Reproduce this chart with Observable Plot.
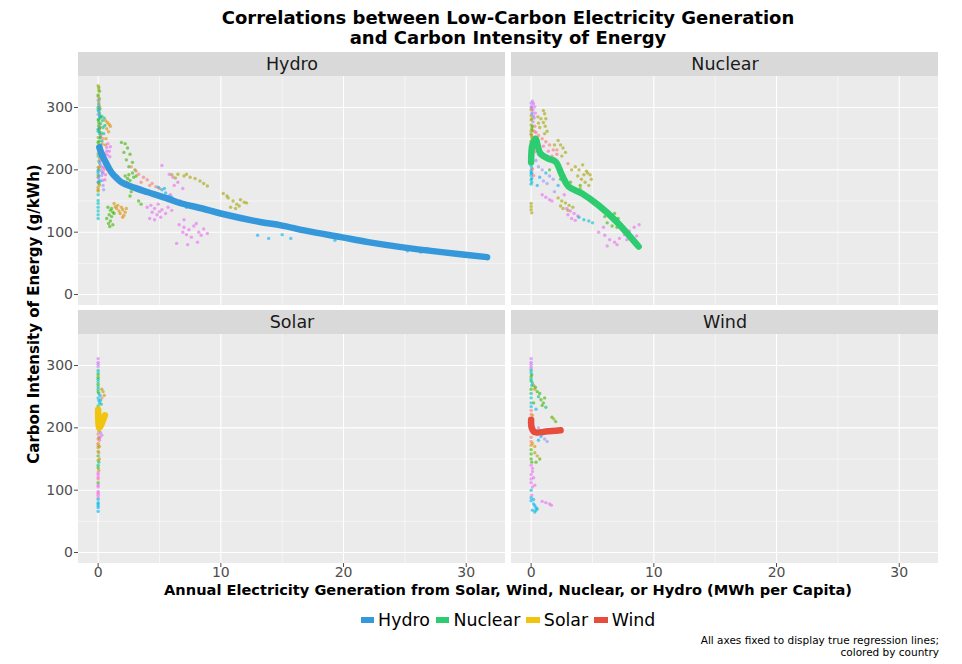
<!DOCTYPE html>
<html><head><meta charset="utf-8">
<script src="https://cdn.jsdelivr.net/npm/d3@7"></script>
<script src="https://cdn.jsdelivr.net/npm/@observablehq/plot@0.6"></script>
<style>
body{margin:0;background:#fff;font-family:"DejaVu Sans",sans-serif;}
#wrap{width:962px;}
#title{box-sizing:border-box;height:52px;padding:8px 23px 0 77px;text-align:center;font-weight:bold;font-size:18px;line-height:20px;color:#000;}
#chart svg{display:block;}
#legend{box-sizing:border-box;display:flex;justify-content:center;align-items:center;padding:0 23px 0 77px;height:20px;margin-top:10px;font-size:17.4px;color:#000;}
.item{display:flex;align-items:center;margin:0 3px;flex:none;}
.key{width:13.5px;height:6px;margin-right:4px;flex:none;}
#caption{box-sizing:border-box;text-align:right;padding-right:23px;font-size:10.5px;line-height:12px;margin-top:4px;color:#000;}
</style></head>
<body><div id="wrap">
<div id="title">Correlations between Low-Carbon Electricity Generation<br>and Carbon Intensity of Energy</div>
<div id="chart"></div>
<div id="legend"></div>
<div id="caption">All axes fixed to display true regression lines;<br>colored by country</div>
</div>
<script>
// ---------- data ----------
const panels = ["Hydro", "Nuclear", "Solar", "Wind"];
const fitColors = {Hydro: "#3498DB", Nuclear: "#2ECC71", Solar: "#F1C40F", Wind: "#E74C3C"};
const countryColors = ["#F8766D","#D89000","#A3A500","#39B600","#00BF7D","#00BFC4","#00B0F6","#9590FF","#E76BF3","#FF62BC"];
const xTicks = [0, 10, 20, 30];
const xMinor = [5, 15, 25];
const yTicks = [0, 100, 200, 300];
const yMinor = [50, 150, 250];
const xTitle = "Annual Electricity Generation from Solar, Wind, Nuclear, or Hydro (MWh per Capita)";
const yTitle = "Carbon Intensity of Energy (g/kWh)";

// points: [x (MWh per capita), y (g/kWh), country index]
const hydroPoints = [
 [0.05,332,3],[0.1,326,3],[0,320,3],[0.1,314,3],[0.05,306,3],[0.15,298,3],[0.1,291,3],[0.2,284,3],[0.05,276,3],[0.15,268,3],[0.1,261,3],[0.2,253,3],[0.05,246,3],[0.15,238,3],
 [0,335,2],[0.05,328,2],[0,318,2],[0.05,310,2],[0.1,302,2],[0,252,2],[0.05,240,2],[0,226,2],[0.05,214,2],[0,204,2],[0,192,2],[0.05,181,2],[0,172,2],[0,166,2],
 [0,296,4],[0.1,288,4],[0.05,281,4],[0.2,274,4],[0.1,266,4],[0.25,259,4],[0.15,251,4],[0.3,286,4],[0.35,279,4],[0.4,268,4],[0.45,258,4],[0.5,283,4],[0.55,271,4],[0.3,246,4],
 [0,312,7],[0.05,304,7],[0.1,297,7],[0,289,7],[0.2,208,7],[0.25,199,7],[0.3,191,7],[0.35,183,7],[0.4,175,7],[0.3,204,7],[0.45,168,7],[0.15,215,7],
 [0.05,201,1],[0,188,1],[0.05,178,1],[0.1,219,1],[0.6,279,1],[0.75,276,1],[0.9,273,1],[1.0,270,1],[0.7,266,1],[0.85,261,1],[0.65,250,1],[0,168,1],[0.1,230,1],
 [0.8,242,8],[1.0,237,8],[0.9,230,8],[0.75,224,8],[0.6,217,8],[0.5,211,8],[0.45,205,8],[0.7,236,8],[0.95,221,8],
 [0,151,5],[0,146,5],[0,140,5],[0,134,5],[0,128,5],[0,122,5],[0.05,233,5],[0.1,226,5],[0,262,5],[0.05,270,5],
 [0.3,231,0],[0.4,223,0],[0.5,216,0],[0.6,209,0],[0.2,256,0],[0.1,266,0],[0.35,241,0],[0.55,226,0],[0.25,220,0],
 [0.5,201,9],[0.6,192,9],[0.4,196,9],[0.55,184,9],
 [0,199,6],[0.05,190,6],[0.2,222,6],[0.1,211,6],[0.15,182,6],[0,180,6],[0.25,236,6],
 [0,300,4],[0.05,294,5],[0.1,285,6],[0,280,3],[0.05,272,2],[0,265,4],[0.1,258,5],[0,244,3],[0.05,236,4],[0,222,5],[0.1,205,1],[0,196,6],[0.05,186,7],[0.1,176,2],[0,160,5],[0.3,215,8],[0.2,240,4],[0.4,250,0],[0.6,240,1],[0.7,230,8],[0.35,195,7],
 [0.8,140,3],[1.0,135,3],[1.2,132,3],[0.9,128,3],[1.1,125,3],[0.7,122,3],[1.0,118,3],[0.85,114,3],[1.2,112,3],[0.95,109,3],[1.3,130,3],[1.1,138,3],
 [1.3,146,1],[1.6,143,1],[1.9,140,1],[1.5,138,1],[2.0,136,1],[1.7,134,1],[2.2,132,1],[1.8,130,1],[2.1,127,1],[2.0,124,1],[1.4,141,1],[2.3,138,1],
 [1.9,244,3],[2.2,242,3],[2.4,235,3],[2.1,228,3],[2.6,225,3],[2.3,216,3],[2.8,212,3],[2.5,205,3],[3.0,200,3],[2.7,165,3],[3.3,150,3],[3.5,145,3],[2.6,158,3],
 [2.2,190,3],[2.5,192,3],[2.8,195,3],[2.4,186,3],[2.9,188,3],[2.6,183,3],[3.1,190,3],[2.3,180,3],
 [2.7,205,0],[3.1,198,0],[3.3,193,0],[3.7,188,0],[4.0,184,0],[4.4,178,0],[4.7,173,0],[5.0,170,0],[4.2,175,0],[3.5,180,0],
 [4.9,172,6],[5.2,168,6],[5.5,163,6],[5.8,158,6],[6.0,156,6],[5.4,170,6],[6.3,150,6],[7.2,140,6],
 [4.0,140,8],[4.3,143,8],[4.6,138,8],[4.9,145,8],[5.2,136,8],[4.4,132,8],[4.8,128,8],[5.1,124,8],[5.5,130,8],[4.2,122,8],[5.7,140,8],[4.6,120,8],[5.0,133,8],
 [5.2,207,8],[5.8,193,8],[6.1,188,8],[6.5,180,8],[6.9,170,8],[6.2,175,8],[5.9,160,8],[6.7,150,8],[6.0,135,8],[7.0,120,8],
 [6.0,192,2],[6.5,193,2],[7.0,190,2],[7.5,188,2],[7.9,186,2],[8.3,182,2],[8.6,178,2],[8.9,174,2],[6.3,187,2],[7.2,193,2],
 [6.6,112,8],[7.0,108,8],[7.4,104,8],[7.8,110,8],[8.2,100,8],[8.6,105,8],[8.9,98,8],[7.2,96,8],[7.6,92,8],[8.0,114,8],[8.4,95,8],[6.9,100,8],[6.4,82,8],[7.3,80,8],[8.1,84,8],
 [10.2,162,2],[10.6,155,2],[11.0,150,2],[11.3,145,2],[11.6,152,2],[11.9,148,2],[10.8,140,2],[11.2,138,2],[12.1,147,2],[10.5,158,2],[11.5,142,2],
 [13.0,95,6],[13.9,90,6],[15.0,96,6],[15.7,90,6],[16.5,102,6],[19.3,87,6],[20.5,90,6],[22.0,82,6],[24.7,75,6],[25.2,70,6],[25.8,73,6],[26.3,68,6],[26.8,74,6],[27.4,70,6],[28.5,67,6],[29.5,65,6],[31.7,62,6]
];
const nuclearPoints = [
 [0.1,310,8],[0.2,306,8],[0.3,301,8],[0.15,296,8],[0.35,291,8],[0.25,283,8],[0.05,302,8],
 [0,307,7],[0.05,299,7],[0.1,291,7],[0.2,286,7],[0.15,277,7],
 [0,296,2],[0.05,282,2],[0,272,2],[0.1,263,2],[0.05,252,2],[0.15,245,2],[0,287,2],
 [0,257,3],[0.05,243,3],[0,232,3],[0,219,3],[0.05,266,3],
 [0,216,5],[0,207,5],[0,199,5],[0,191,5],[0,184,5],[0,177,5],[0.05,211,5],
 [0.05,203,6],[0.05,195,6],[0.05,186,6],[0,224,6],
 [0.2,241,0],[0.3,229,0],[0.1,201,0],[0.2,191,0],[0.25,262,0],[0.35,252,0],
 [0,246,1],[0.05,227,1],[0.1,213,1],[0.1,236,1],
 [0,300,8],[0.05,290,7],[0,280,2],[0.1,270,3],[0,262,2],[0.05,255,1],[0,238,5],[0.05,230,3],[0,226,6],[0,212,5],[0,195,6],[0.05,180,5],
 [0.3,270,0],[0.4,260,9],[0.5,245,0],[0.45,235,7],[0.6,225,8],[0.55,285,2],[0.8,282,2],
 [0,146,2],[0,141,2],[0,136,2],[0.05,131,2],
 [1.0,295,2],[1.1,290,2],[1.2,282,2],[1.0,276,2],[1.15,270,2],[1.3,262,2],[1.1,258,2],[0.6,275,2],[0.7,268,2],
 [0.6,255,0],[0.9,250,0],[1.2,245,0],[1.5,240,0],[1.8,232,0],[2.1,225,0],[1.0,238,9],[1.4,230,9],[1.7,222,9],[2.0,215,9],[0.8,228,9],
 [2.2,247,2],[2.4,240,2],[2.6,235,2],[2.8,228,2],[2.5,222,2],[1.9,240,2],[2.1,232,0],[3.0,210,0],[3.3,200,2],
 [3.6,205,2],[3.9,200,2],[4.2,208,2],[4.5,198,2],[4.8,192,2],[3.8,190,2],[4.1,185,2],[4.4,180,2],[4.7,175,2],[4.0,170,2],[4.6,195,2],[4.3,192,2],[4.9,185,2],
 [0.4,215,7],[0.6,205,7],[0.9,200,7],[1.2,195,6],[1.5,190,7],[0.7,188,6],[1.0,182,7],[1.3,178,7],[0.5,175,6],
 [3.5,170,7],[2.7,160,8],[1.9,165,7],[2.2,175,6],[1.8,185,7],
 [2.2,155,2],[2.5,150,2],[2.8,147,2],[3.1,143,2],[3.4,140,2],[2.6,138,2],[3.0,135,2],[2.4,142,2],
 [2.9,138,8],[3.2,134,8],[3.5,130,8],[3.8,126,8],[3.3,122,8],[3.6,119,8],[3.0,128,8],
 [0.9,160,8],[1.2,156,8],[1.5,152,8],[1.7,150,8],
 [3.9,124,5],[4.3,120,5],[4.7,118,5],[5.0,115,5],
 [1.5,200,3],[2.4,185,3],[3.2,180,3],[4.0,175,3],
 [6.0,125,3],[6.4,128,3],[6.8,130,3],[7.1,122,3],[6.2,115,3],[6.6,110,3],[7.0,108,3],
 [5.5,100,8],[6.0,95,8],[6.4,88,8],[6.8,84,8],[7.2,90,8],[7.6,96,8],[8.0,102,8],[8.4,108,8],[8.8,112,8],[6.2,78,8],[7.0,80,8],[7.8,88,8],[8.6,94,8],[5.9,108,8],[7.4,110,8]
];
const solarPoints = [
 [0,311,8],[0,305,8],[0,298,8],[0,292,4],[0,285,3],[0,278,4],[0,270,3],[0,262,5],[0.05,255,4],[0,248,5],[0.1,240,6],[0,235,4],
 [0,302,7],[0,288,5],[0,281,3],[0,274,5],[0,266,4],[0,258,3],[0.05,244,6],[0,230,5],[0,222,3],[0,215,4],
 [0.3,262,2],[0.4,258,1],[0.5,252,2],[0.3,248,0],[0.2,244,5],[0.15,252,6],[0.25,238,4],
 [0,190,0],[0.05,185,7],[0.1,180,8],[0,175,1],[0,168,2],[0.05,160,0],[0,155,3],[0,148,2],[0,140,4],[0.05,132,1],
 [0.05,195,2],[0,182,1],[0,172,0],[0,162,2],[0.05,145,4],[0,136,3],[0,128,8],[0,121,9],[0,108,8],[0,95,9],[0,88,8],[0,80,5],[0,75,6],[0.1,212,0],[0.1,225,2],
 [0,125,8],[0,118,9],[0,112,3],[0,105,8],[0,98,8],[0,92,8],[0,85,5],[0,78,6],[0,72,6],[0,66,6],
 [0.2,192,7],[0.3,188,8],[0.15,184,0],[0.1,170,2],[0.1,150,1]
];
const windPoints = [
 [0,311,8],[0,305,7],[0,298,8],[0,292,4],[0.05,285,3],[0,278,5],[0.1,272,4],[0.2,268,2],[0.3,262,1],[0.35,265,3],
 [0,302,8],[0,295,7],[0,288,5],[0,282,3],[0,275,4],[0.05,268,5],[0,262,3],[0,255,4],[0,248,5],[0,234,6],
 [0.5,258,3],[0.6,250,4],[0.8,245,3],[1.0,240,3],[1.2,233,4],[0.9,236,3],[1.1,248,3],[0.7,255,3],[1.7,217,3],[2.0,210,3],[1.85,214,2],[0.2,240,3],[0.4,230,6],
 [0,240,5],[0,228,0],[0.1,220,1],[0,205,5],[0.2,200,2],[0.5,190,7],[0.8,186,6],[1.1,182,7],[1.3,178,7],[0.6,180,6],[0.6,200,7],[0.9,190,6],
 [0,222,0],[0,210,1],[0,198,5],[0.1,192,2],[0,178,0],[0,172,1],[0,158,3],[0.05,145,3],[0.4,145,3],[0.3,170,1],
 [0,185,0],[0.1,175,1],[0,165,3],[0.3,160,2],[0.5,155,1],[0.7,150,3],[0,150,3],
 [0,140,8],[0.1,130,8],[0.2,120,8],[0,112,8],[0.3,108,8],[0,100,5],[0.1,135,8],[0,125,8],[0,118,8],[0.1,105,8],[0.05,92,8],
 [0.9,82,8],[1.2,80,8],[1.5,78,8],[1.65,76,8],
 [0,83,6],[0.2,78,6],[0.4,72,6],[0.1,68,6],[0.3,65,6],[0.5,70,5],[0,88,6],[0.2,85,6],[0.3,75,6],[0.4,68,5]
];
// regression lines: [x, y]
const hydroFit = [[0.1,236],[0.3,225],[0.68,210],[1.08,196],[1.5,187],[1.9,180],[3,171],[4.07,164],[5.5,155],[6.8,146],[8.5,138],[10,130],[13.3,116],[14.9,111],[17,102],[19.8,92],[22,84],[24.7,76],[28,68],[31.7,60]];
const nuclearFit = [[0,212],[0.1,240],[0.35,250],[0.76,226],[1.4,218],[2.0,213],[2.5,192],[3.06,173],[4.15,162],[5.5,143],[6.86,119],[8.76,77]];
const solarFit = [[0,229],[0.02,210],[0.08,200],[0.25,205],[0.45,215],[0.55,220]];
const windFit = [[0,213],[0.05,200],[0.3,193],[1.2,194],[2.4,196]];

// ---------- tables ----------
const pointSets = {Hydro: hydroPoints, Nuclear: nuclearPoints, Solar: solarPoints, Wind: windPoints};
const fitSets = {Hydro: hydroFit, Nuclear: nuclearFit, Solar: solarFit, Wind: windFit};
const points = panels.flatMap(p => pointSets[p].map(([x, y, c]) => ({panel: p, x, y, c})));
const fits = panels.flatMap(p => fitSets[p].map(([x, y]) => ({panel: p, x, y})));
const col = p => panels.indexOf(p) % 2;
const row = p => Math.floor(panels.indexOf(p) / 2);

const xDomain = [-1.6, 33.2];
const yLow = -17.6, yHigh = 349.7, yStrip = 388.2;

const chart = Plot.plot({
  width: 962, height: 548,
  marginLeft: 77, marginRight: 23, marginTop: 0, marginBottom: 37,
  style: {fontFamily: "DejaVu Sans", background: "white"},
  x: {domain: xDomain, label: null},
  y: {domain: [yLow, yStrip], label: null},
  fx: {domain: [0, 1], axis: null, paddingInner: 0.01382, paddingOuter: 0},
  fy: {domain: [0, 1], axis: null, paddingInner: 0.01938, paddingOuter: 0},
  color: {type: "identity"},
  marks: [
    Plot.rect(panels, {x1: xDomain[0], x2: xDomain[1], y1: yLow, y2: yHigh, fx: d => col(d), fy: d => row(d), fill: "#EBEBEB"}),
    Plot.rect(panels, {x1: xDomain[0], x2: xDomain[1], y1: yHigh, y2: yStrip, fx: d => col(d), fy: d => row(d), fill: "#D9D9D9"}),
    Plot.text(panels, {x: (xDomain[0] + xDomain[1]) / 2, y: (yHigh + yStrip) / 2, text: d => d, fx: d => col(d), fy: d => row(d), fontSize: 17.5, fill: "#1A1A1A"}),
    Plot.ruleY(yMinor, {x1: xDomain[0], x2: xDomain[1], stroke: "white", strokeWidth: 0.55}),
    Plot.ruleX(xMinor, {y1: yLow, y2: yHigh, stroke: "white", strokeWidth: 0.55}),
    Plot.ruleY(yTicks, {x1: xDomain[0], x2: xDomain[1], stroke: "white", strokeWidth: 1.1}),
    Plot.ruleX(xTicks, {y1: yLow, y2: yHigh, stroke: "white", strokeWidth: 1.1}),
    Plot.dot(points, {x: "x", y: "y", fx: d => col(d.panel), fy: d => row(d.panel), r: 1.7, fill: d => countryColors[d.c], fillOpacity: 0.6, stroke: null}),
    Plot.line(fits, {x: "x", y: "y", z: "panel", fx: d => col(d.panel), fy: d => row(d.panel), stroke: d => fitColors[d.panel], strokeWidth: 6.5, curve: "catmull-rom", strokeLinejoin: "round"}),
    Plot.axisY({ticks: yTicks, tickSize: 4, tickPadding: 1.5, fontSize: 14, color: "#4D4D4D", label: null}),
    Plot.axisX({ticks: xTicks, tickSize: 4, tickPadding: 0, fontSize: 14, color: "#4D4D4D", label: null})
  ]
});
document.getElementById("chart").appendChild(chart);

const svg = d3.select(chart);
svg.append("text").attr("x", 508).attr("y", 543).attr("text-anchor", "middle")
  .attr("font-weight", "bold").attr("font-size", 14.6).attr("fill", "#000").text(xTitle);
svg.append("text").attr("transform", "translate(39,262) rotate(-90)").attr("text-anchor", "middle")
  .attr("font-weight", "bold").attr("font-size", 15).attr("fill", "#000").text(yTitle);

const legend = d3.select("#legend");
panels.forEach(p => {
  const it = legend.append("div").attr("class", "item");
  it.append("div").attr("class", "key").style("background", fitColors[p]);
  it.append("span").text(p);
});
</script>
</body></html>
